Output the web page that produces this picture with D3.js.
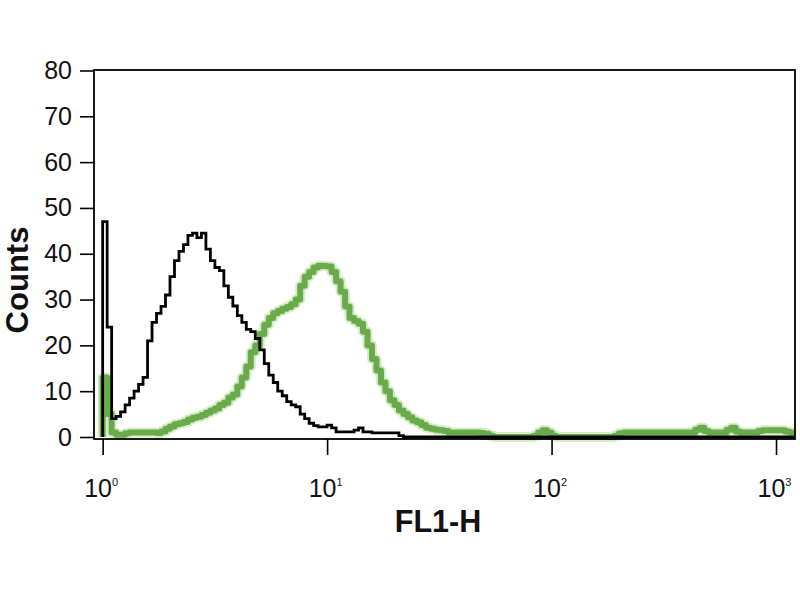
<!DOCTYPE html>
<html>
<head>
<meta charset="utf-8">
<script src="https://cdn.jsdelivr.net/npm/d3@7"></script>
<style>
  body { margin: 0; background: #fff; }
  .tick text { font-family: "Liberation Sans", Arial, sans-serif; }
</style>
</head>
<body>
<svg id="grafico"></svg>
<script>
// histogram channels: 50 channels per decade starting at 10^0
var canaisPorDecada = 50;

// control (black) counts per channel
var contagemControle = [
  47, 24, 4, 4.5, 5.5, 7, 8.5, 10, 11.5, 13,
  21, 25, 27, 28.5, 31, 35, 38.5, 40.5, 42, 44,
  44.5, 43.5, 44.5, 41, 38.5, 37, 36.3, 33, 30.5, 28.6,
  26.5, 25, 23.5, 23, 21.5, 19, 16, 13.5, 11.9, 10,
  9, 7.7, 7, 6.6, 5, 4, 3, 2.5, 2.2, 2.2,
  2.6, 2, 1.1, 1.1, 1.1, 1.1, 1.5, 2, 1.1, 1.1,
  0.9, 0.9, 0.9, 0.9, 0.9, 0.9, 0.3, 0, 0, 0,
  0, 0, 0, 0, 0, 0, 0, 0, 0, 0,
  0, 0, 0, 0, 0, 0, 0, 0, 0, 0,
  0, 0, 0, 0, 0, 0, 0, 0, 0, 0,
  0, 0, 0, 0, 0, 0, 0, 0, 0, 0,
  0, 0, 0, 0, 0, 0, 0, 0, 0, 0,
  0, 0, 0, 0, 0, 0, 0, 0, 0, 0,
  0, 0, 0, 0, 0, 0, 0, 0, 0, 0,
  0, 0, 0, 0, 0, 0, 0, 0, 0, 0,
  0, 0, 0, 0
];

// stained sample (green) counts per channel
var contagemAmostra = [
  13, 5, 1, 0.5, 0.5, 0.8, 1, 1, 1, 1,
  1, 1, 0.9, 1.2, 1.8, 2.3, 2.8, 3, 3.3, 3.8,
  4.2, 4.4, 4.8, 5.3, 5.8, 6.2, 7, 7.5, 8.6, 9.3,
  11, 13, 15.4, 18.5, 20, 22.5, 24.5, 26, 27, 27.5,
  28, 28.4, 29, 30, 33, 35, 36, 37, 37.4, 37.3,
  37.2, 36, 34, 31.7, 28.5, 26, 25.3, 24.7, 23, 20,
  17, 14.5, 11.9, 10, 8, 7, 5.8, 5, 4.3, 3.6,
  3.2, 2.6, 2, 1.8, 1.6, 1.5, 1.3, 1, 1, 1,
  1, 1, 1, 1, 0.9, 0.7, 0.3, 0, 0, 0,
  0, 0, 0, 0, 0, 0, 0.3, 1, 1.5, 1,
  0.3, 0, 0, 0, 0, 0, 0, 0, 0, 0,
  0, 0, 0, 0, 0.3, 0.8, 1, 1, 1, 1,
  1, 1, 1, 1, 1, 1, 1, 1, 1, 1,
  1, 1, 1.6, 2, 1.3, 1, 1, 1, 1, 1.6,
  2, 1.2, 1, 1, 1, 1, 1.3, 1.5, 1.5, 1.5,
  1.5, 1.5, 1.2, 1
];

var ticksY = [0, 10, 20, 30, 40, 50, 60, 70, 80];
var ticksX = [1, 10, 100, 1000];
var expoentesX = ['0', '1', '2', '3'];

var largura = 800, altura = 600;
var margem = { esquerda: 94, direita: 5, superior: 70, inferior: 161 };
var larguraPlotagem = largura - margem.esquerda - margem.direita;
var alturaPlotagem = altura - margem.superior - margem.inferior;

var svg = d3.select('#grafico')
            .attr('width', largura)
            .attr('height', altura);

svg.append('rect').attr('width', largura).attr('height', altura).attr('fill', '#fff');

var plotagem = svg.append('g')
                  .attr('transform', 'translate(' + margem.esquerda + ',' + margem.superior + ')');

var x = d3.scaleLog().domain([0.915, 1215]).range([0, larguraPlotagem]);
var y = d3.scaleLinear().domain([0, 80]).range([alturaPlotagem - 2, 0.5]);

function borda(i) { return Math.pow(10, i / canaisPorDecada); }

function pontos(contagem) {
  var p = [[borda(0), 0]];
  contagem.forEach(function (c, i) { p.push([borda(i), c]); });
  p.push([borda(contagem.length), contagem[contagem.length - 1]]);
  return p;
}

var linha = d3.line()
              .x(d => x(d[0]))
              .y(d => y(d[1]))
              .curve(d3.curveStepAfter);

// green histogram with a soft halo
plotagem.append('path')
  .attr('d', linha(pontos(contagemAmostra)))
  .attr('fill', 'none')
  .attr('stroke', '#d6ecc8')
  .attr('stroke-width', 10)
  .attr('stroke-linejoin', 'round');

plotagem.append('path')
  .attr('d', linha(pontos(contagemAmostra)))
  .attr('fill', 'none')
  .attr('stroke', '#69ab4b')
  .attr('stroke-width', 6)
  .attr('stroke-linejoin', 'round');

plotagem.append('path')
  .attr('d', linha(pontos(contagemControle)))
  .attr('fill', 'none')
  .attr('stroke', '#000')
  .attr('stroke-width', 2.8);

// frame
plotagem.append('rect')
  .attr('x', 0).attr('y', 0)
  .attr('width', larguraPlotagem)
  .attr('height', alturaPlotagem)
  .attr('fill', 'none')
  .attr('stroke', '#000')
  .attr('stroke-width', 1.8);

// y axis
var eixoY = plotagem.append('g')
  .call(d3.axisLeft(y).tickValues(ticksY).tickSize(14).tickPadding(8));
eixoY.select('.domain').remove();
eixoY.selectAll('.tick line').attr('stroke-width', 1.6);
eixoY.selectAll('.tick text').attr('font-size', 25).attr('fill', '#111');

// x axis
var eixoX = plotagem.append('g')
  .attr('transform', 'translate(0,' + alturaPlotagem + ')')
  .call(d3.axisBottom(x).tickValues(ticksX).tickSize(16).tickFormat(''));
eixoX.select('.domain').remove();
eixoX.selectAll('.tick line').attr('stroke-width', 1.6);

var rotulosX = eixoX.selectAll('.tick')
  .append('text')
  .attr('y', 58)
  .attr('x', -2)
  .attr('fill', '#111')
  .attr('font-size', 25)
  .attr('text-anchor', 'middle');
rotulosX.append('tspan').text('10');
rotulosX.append('tspan')
  .text((d, i) => expoentesX[i])
  .attr('font-size', 11)
  .attr('dy', -11);

// axis titles
svg.append('text')
  .text('FL1-H')
  .attr('x', 438)
  .attr('y', 532)
  .attr('text-anchor', 'middle')
  .attr('font-family', '"Liberation Sans", Arial, sans-serif')
  .attr('font-weight', 'bold')
  .attr('font-size', 30.5)
  .attr('fill', '#111');

svg.append('text')
  .text('Counts')
  .attr('transform', 'translate(28,280) rotate(-90)')
  .attr('text-anchor', 'middle')
  .attr('font-family', '"Liberation Sans", Arial, sans-serif')
  .attr('font-weight', 'bold')
  .attr('font-size', 31)
  .attr('fill', '#111');
</script>
</body>
</html>
